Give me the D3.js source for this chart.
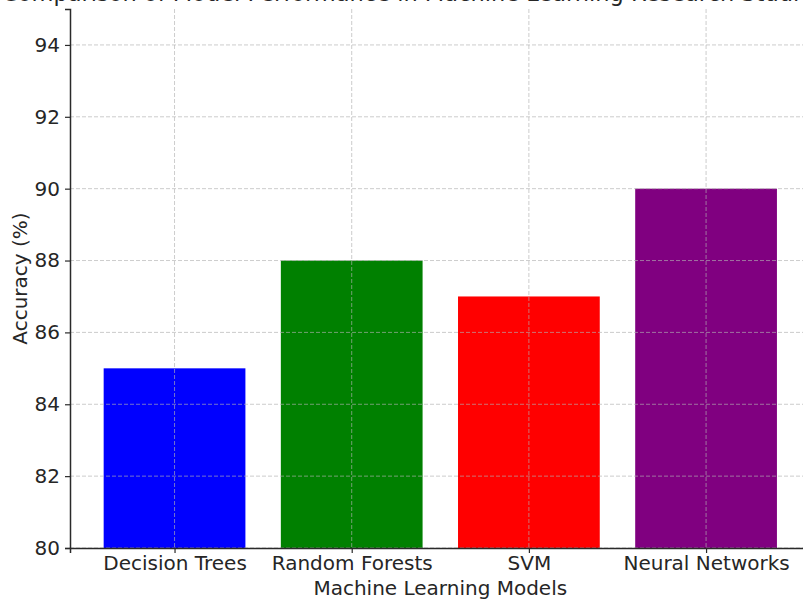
<!DOCTYPE html>
<html lang="en">
    <head>
        <meta charset="utf-8">
        <title>Model Accuracy</title>
        <script type="text/javascript" src="https://cdn.jsdelivr.net/npm/d3@7"></script>
        <style>
            body { margin: 0; background: #fff; }
            svg text { font-family: "DejaVu Sans", sans-serif; fill: #262626; }
        </style>
    </head>
    <body>
        <script type="text/javascript">
            // data
            var models = ["Decision Trees", "Random Forests", "SVM", "Neural Networks"];
            var accuracy = [85, 88, 87, 90];
            var barColors = ["blue", "green", "red", "purple"];
            var yTicks = [80, 82, 84, 86, 88, 90, 92, 94];

            var w = 803;
            var h = 600;

            // the plot area runs past the right edge of the picture (it was cropped)
            var plotLeft = 70, plotRight = 810.6, plotTop = 9, plotBottom = 548;

            var svg = d3.select("body")
                        .append("svg")
                        .attr("width", w)
                        .attr("height", h);

            // linear x scale with matplotlib style margins: bar width 0.8, 5% margin
            var xScale = d3.scaleLinear()
                            .domain([-0.59, 3.59])
                            .range([plotLeft, plotRight]);

            var yScale = d3.scaleLinear()
                            .domain([80, 95])
                            .range([plotBottom, plotTop]);

            // bars
            svg.selectAll("rect.bar")
                .data(accuracy)
                .enter()
                .append("rect")
                .attr("class", "bar")
                .attr("x", function(d, i){ return xScale(i - 0.4); })
                .attr("width", function(d, i){ return xScale(i + 0.4) - xScale(i - 0.4); })
                .attr("y", function(d){ return yScale(d); })
                .attr("height", function(d){ return yScale(80) - yScale(d); })
                .attr("fill", function(d, i){ return barColors[i]; });

            // grid, drawn over the bars like matplotlib does
            var grid = svg.append("g")
                        .attr("stroke", "#b0b0b0")
                        .attr("stroke-opacity", 0.65)
                        .attr("stroke-width", 1)
                        .attr("stroke-dasharray", "4,2");

            grid.selectAll("line.h")
                .data(yTicks)
                .enter()
                .append("line")
                .attr("x1", plotLeft)
                .attr("x2", plotRight)
                .attr("y1", function(d){ return yScale(d); })
                .attr("y2", function(d){ return yScale(d); });

            grid.selectAll("line.v")
                .data(models)
                .enter()
                .append("line")
                .attr("x1", function(d, i){ return xScale(i); })
                .attr("x2", function(d, i){ return xScale(i); })
                .attr("y1", plotTop)
                .attr("y2", plotBottom);

            // axes
            var yAxis = d3.axisLeft(yScale)
                            .tickValues(yTicks)
                            .tickSize(5)
                            .tickPadding(5);

            var yG = svg.append("g")
                        .attr("transform", "translate(" + plotLeft + ",0)")
                        .call(yAxis);

            var xAxis = d3.axisBottom(xScale)
                            .tickValues([0, 1, 2, 3])
                            .tickFormat(function(d){ return models[d]; })
                            .tickSize(5)
                            .tickPadding(3);

            var xG = svg.append("g")
                        .attr("transform", "translate(0," + plotBottom + ")")
                        .call(xAxis);

            [yG, xG].forEach(function(g){
                g.select(".domain").attr("stroke", "#2a2a2a").attr("stroke-width", 1.5);
                g.selectAll(".tick line").attr("stroke", "#2a2a2a").attr("stroke-width", 1.2);
                g.selectAll(".tick text")
                    .attr("font-size", "20px")
                    .attr("font-family", "DejaVu Sans, sans-serif")
                    .attr("fill", "#262626");
            });

            // labels
            svg.append("text")
                .attr("x", (plotLeft + plotRight) / 2)
                .attr("y", 595)
                .attr("text-anchor", "middle")
                .attr("font-size", "20px")
                .text("Machine Learning Models");

            svg.append("text")
                .attr("transform", "translate(27," + ((plotTop + plotBottom) / 2) + ") rotate(-90)")
                .attr("text-anchor", "middle")
                .attr("font-size", "20px")
                .text("Accuracy (%)");

            // title, mostly cut off at the top of the picture
            svg.append("text")
                .attr("x", 2)
                .attr("y", 0.5)
                .attr("font-size", "22.5px")
                .text("Comparison of Model Performance in Machine Learning Research Studies");
        </script>
    </body>
</html>
